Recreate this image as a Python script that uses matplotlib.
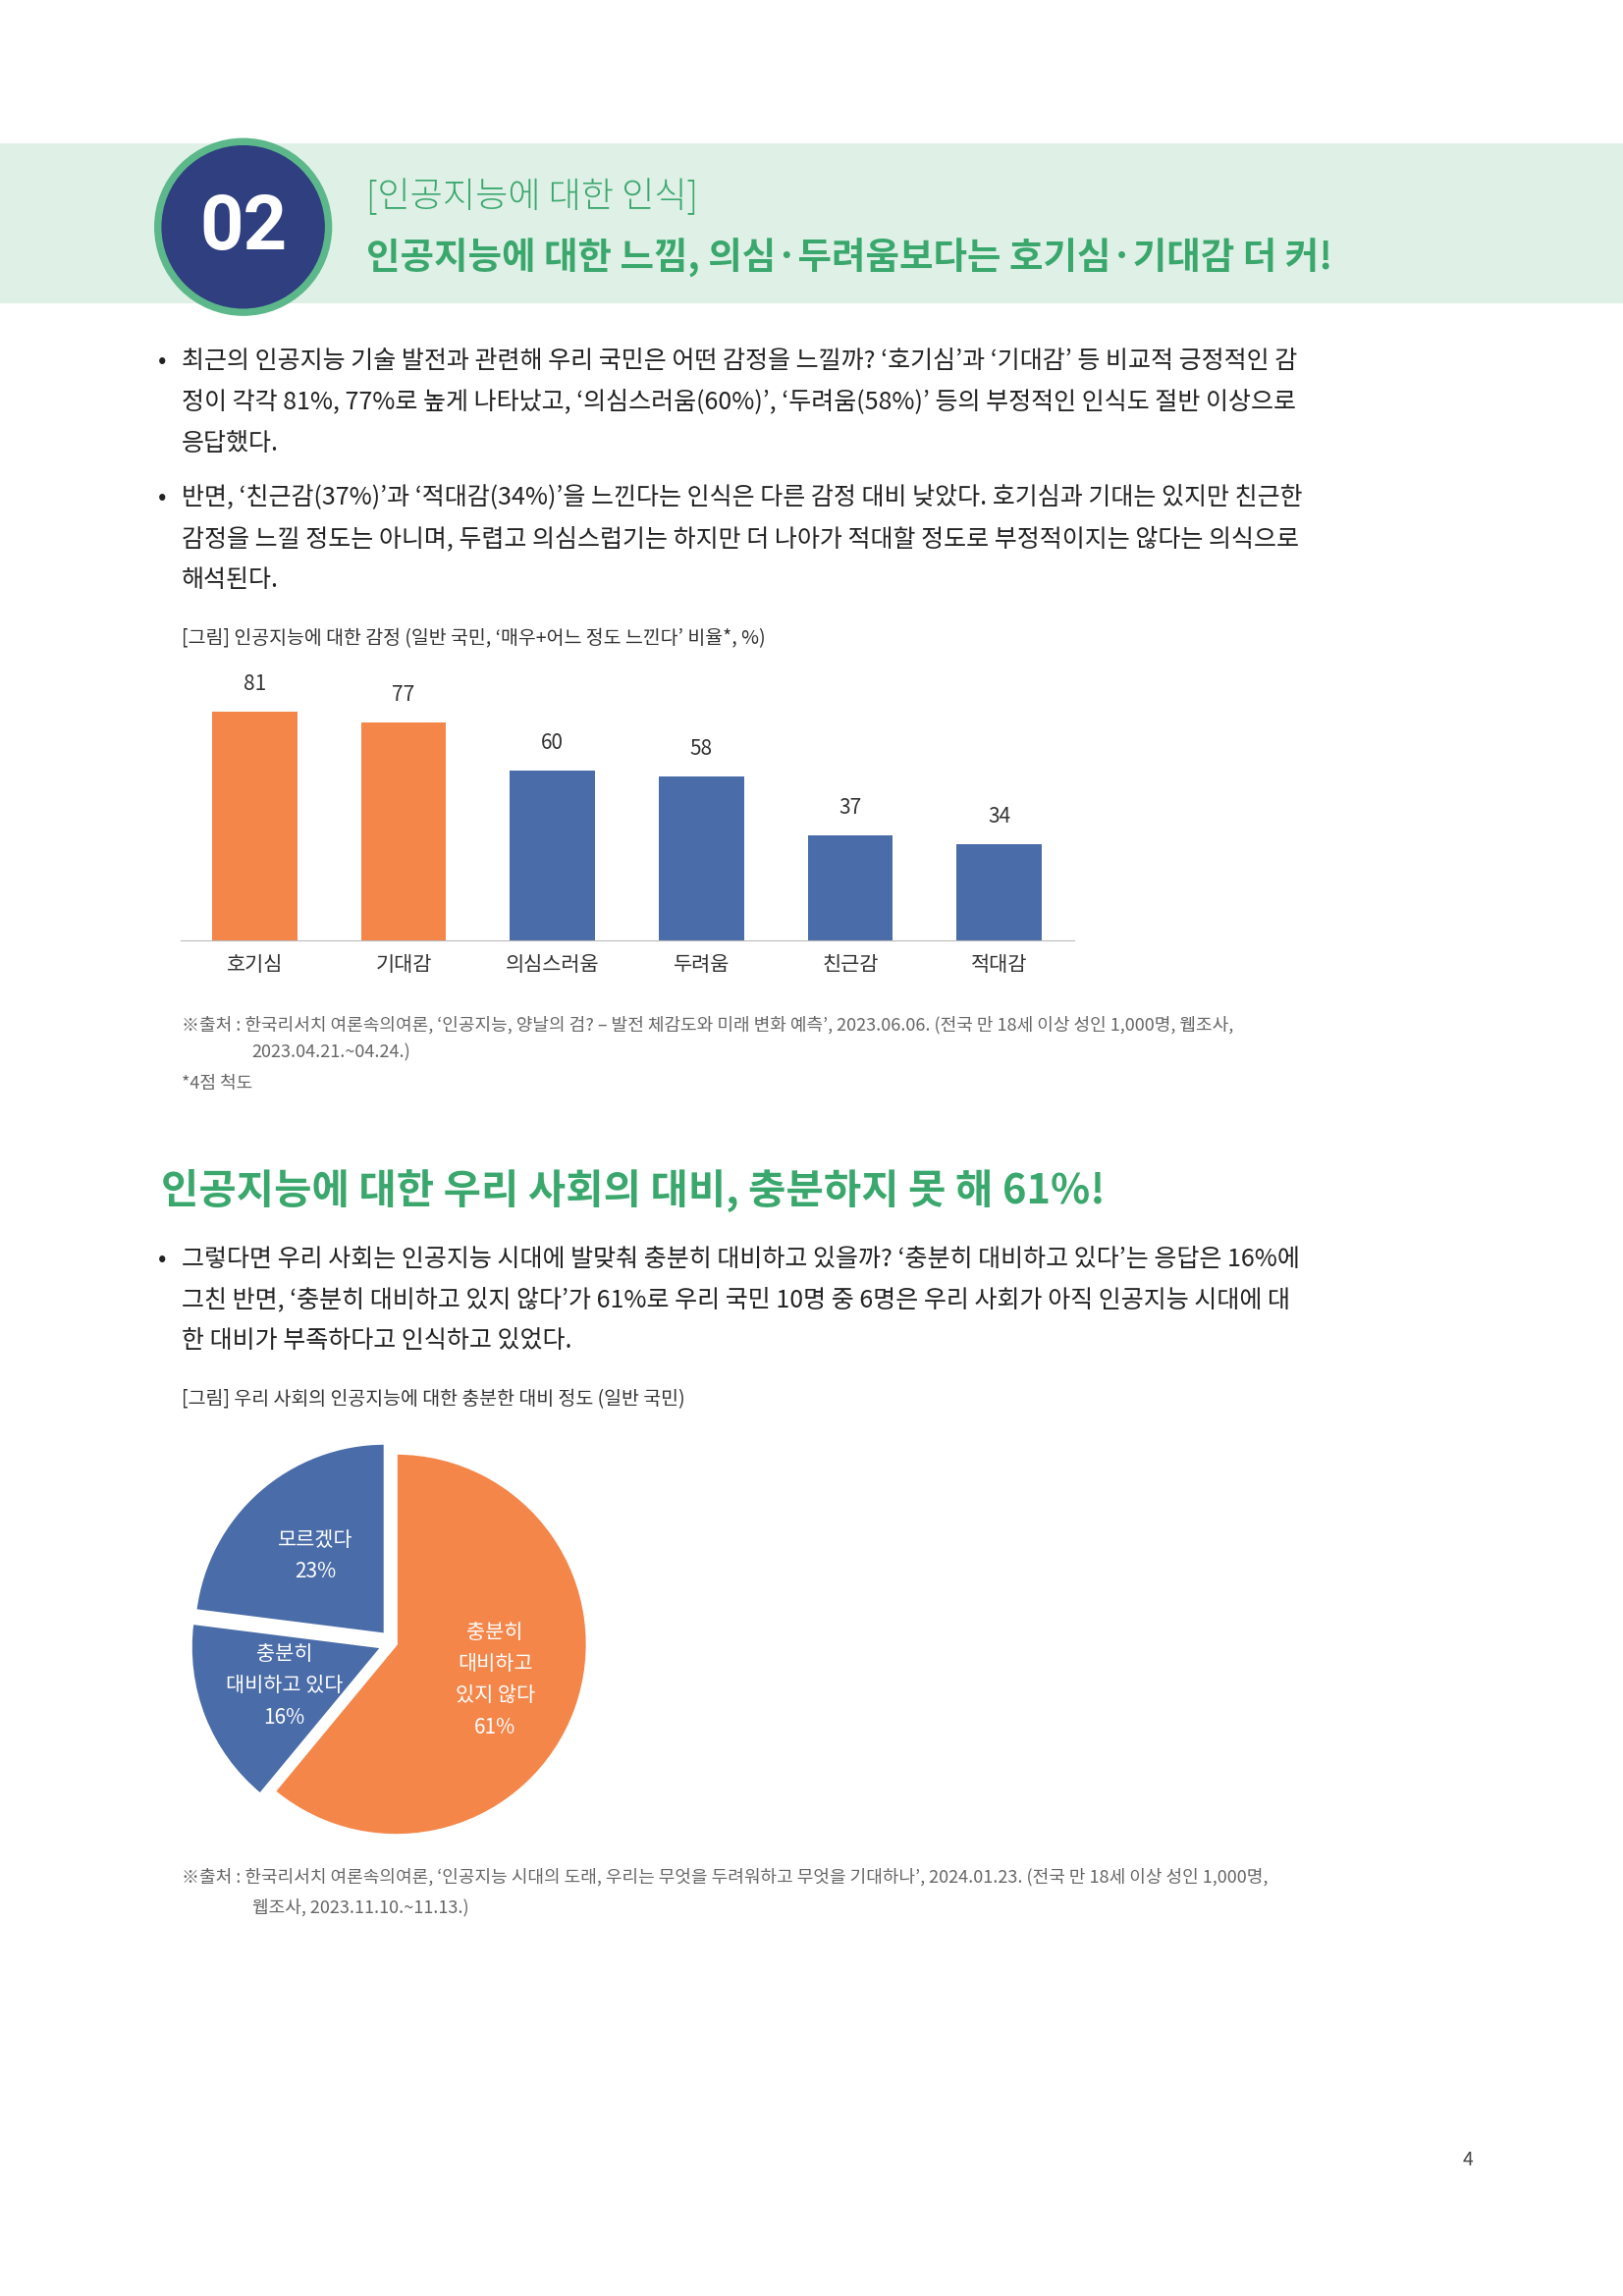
import matplotlib
matplotlib.use("Agg")
import matplotlib.pyplot as plt
from matplotlib import font_manager
from matplotlib.patches import Rectangle, Circle

cands = [f.name for f in font_manager.fontManager.ttflist if 'CJK' in f.name]
pref = [n for n in cands if 'KR' in n] or cands
plt.rcParams['font.family'] = [pref[0] if pref else 'Noto Sans CJK KR', 'DejaVu Sans']

bar_categories = ['호기심', '기대감', '의심스러움', '두려움', '친근감', '적대감']
bar_values = [81, 77, 60, 58, 37, 34]
bar_colors = ['#f4864a', '#f4864a', '#4a6ca8', '#4a6ca8', '#4a6ca8', '#4a6ca8']

pie_labels = ['충분히\n대비하고\n있지 않다\n61%', '충분히\n대비하고 있다\n16%', '모르겠다\n23%']
pie_values = [61, 16, 23]
pie_colors = ['#f4864a', '#4a6ca8', '#4a6ca8']

W, H = 1108, 1568
fig = plt.figure(figsize=(16.53, 23.39), dpi=100)
X = lambda x: x / W
Y = lambda y: 1 - y / H
GREEN = '#3aa76d'
TXT = '#222222'
GRAY = '#666666'

def t(x, y, s, **kw):
    kw.setdefault('color', TXT)
    kw.setdefault('va', 'center')
    fig.text(X(x), Y(y), s, **kw)

# header band
bg = fig.add_axes([0, Y(207), 1, (207 - 98) / H], zorder=0)
bg.set_facecolor('#dff0e6'); bg.set_xticks([]); bg.set_yticks([])
for s in bg.spines.values():
    s.set_visible(False)
cax = fig.add_axes([X(104), Y(217), 124 / W, 124 / H], zorder=5)
cax.set_xlim(-1, 1); cax.set_ylim(-1, 1); cax.set_aspect('equal'); cax.axis('off')
cax.add_patch(Circle((0, 0), 0.98, facecolor='#5cb88a', edgecolor='none'))
cax.add_patch(Circle((0, 0), 0.9, facecolor='#2f3f7f', edgecolor='none'))
cax.text(0, -0.02, '02', color='white', fontsize=56, ha='center', va='center',
         fontfamily='Roboto', fontweight='bold')
t(250, 135, '[인공지능에 대한 인식]', color=GREEN, fontsize=26, fontweight='light')
t(250, 176, '인공지능에 대한 느낌, 의심·두려움보다는 호기심·기대감 더 커!', color=GREEN, fontsize=27, fontweight='bold')

body = 18
lines1 = [(247, '•', '최근의 인공지능 기술 발전과 관련해 우리 국민은 어떤 감정을 느낄까? ‘호기심’과 ‘기대감’ 등 비교적 긍정적인 감'),
          (275, None, '정이 각각 81%, 77%로 높게 나타났고, ‘의심스러움(60%)’, ‘두려움(58%)’ 등의 부정적인 인식도 절반 이상으로'),
          (303, None, '응답했다.'),
          (340, '•', '반면, ‘친근감(37%)’과 ‘적대감(34%)’을 느낀다는 인식은 다른 감정 대비 낮았다. 호기심과 기대는 있지만 친근한'),
          (368, None, '감정을 느낄 정도는 아니며, 두렵고 의심스럽기는 하지만 더 나아가 적대할 정도로 부정적이지는 않다는 의식으로'),
          (396, None, '해석된다.'),
          (860, '•', '그렇다면 우리 사회는 인공지능 시대에 발맞춰 충분히 대비하고 있을까? ‘충분히 대비하고 있다’는 응답은 16%에'),
          (888, None, '그친 반면, ‘충분히 대비하고 있지 않다’가 61%로 우리 국민 10명 중 6명은 우리 사회가 아직 인공지능 시대에 대'),
          (916, None, '한 대비가 부족하다고 인식하고 있었다.')]
for y, b, s in lines1:
    if b:
        t(108, y, b, fontsize=body)
    t(124, y, s, fontsize=body)

t(124, 436, '[그림] 인공지능에 대한 감정 (일반 국민, ‘매우+어느 정도 느낀다’ 비율*, %)', fontsize=14, color='#333333')

# bar chart
ax = fig.add_axes([X(123), Y(642), (733 - 123) / W, (642 - 460) / H])
xs = range(len(bar_values))
ax.bar(xs, bar_values, width=0.57, color=bar_colors)
for i, v in zip(xs, bar_values):
    ax.text(i, v + 6, str(v), ha='center', va='bottom', fontsize=15, color='#333333')
ax.set_xlim(-0.5, len(bar_values) - 0.5)
ax.set_ylim(0, 94.5)
ax.set_xticks(list(xs))
ax.set_xticklabels(bar_categories, fontsize=15, color='#333333')
ax.tick_params(axis='x', length=0, pad=10)
ax.set_yticks([])
for s in ['top', 'right', 'left']:
    ax.spines[s].set_visible(False)
ax.spines['bottom'].set_color('#bbbbbb')
ax.patch.set_alpha(0)

src = 13
t(124, 700, '※출처 : 한국리서치 여론속의여론, ‘인공지능, 양날의 검? – 발전 체감도와 미래 변화 예측’, 2023.06.06. (전국 만 18세 이상 성인 1,000명, 웹조사,', fontsize=src, color=GRAY)
t(172, 719, '2023.04.21.~04.24.)', fontsize=src, color=GRAY)
t(124, 740, '*4점 척도', fontsize=src, color=GRAY)

t(110, 813, '인공지능에 대한 우리 사회의 대비, 충분하지 못 해 61%!', color=GREEN, fontsize=30, fontweight='bold')

t(124, 956, '[그림] 우리 사회의 인공지능에 대한 충분한 대비 정도 (일반 국민)', fontsize=14, color='#333333')

# pie
pax = fig.add_axes([X(268 - 150), Y(1122 + 150), 300 / W, 300 / H])
wedges, texts = pax.pie(pie_values, colors=pie_colors, startangle=90, counterclock=False,
                        explode=[0.02, 0.06, 0.06], labels=pie_labels, labeldistance=0.55,
                        wedgeprops=dict(edgecolor='white', linewidth=2),
                        textprops=dict(color='white', fontsize=15, ha='center', va='center', linespacing=1.6))
pax.set_xlim(-1.15, 1.15); pax.set_ylim(-1.15, 1.15); pax.set_aspect('equal')

t(124, 1282, '※출처 : 한국리서치 여론속의여론, ‘인공지능 시대의 도래, 우리는 무엇을 두려워하고 무엇을 기대하나’, 2024.01.23. (전국 만 18세 이상 성인 1,000명,', fontsize=src, color=GRAY)
t(172, 1303, '웹조사, 2023.11.10.~11.13.)', fontsize=src, color=GRAY)
t(1002, 1475, '4', fontsize=14, color='#444444', ha='center')

fig.savefig('out.png', dpi=100)
